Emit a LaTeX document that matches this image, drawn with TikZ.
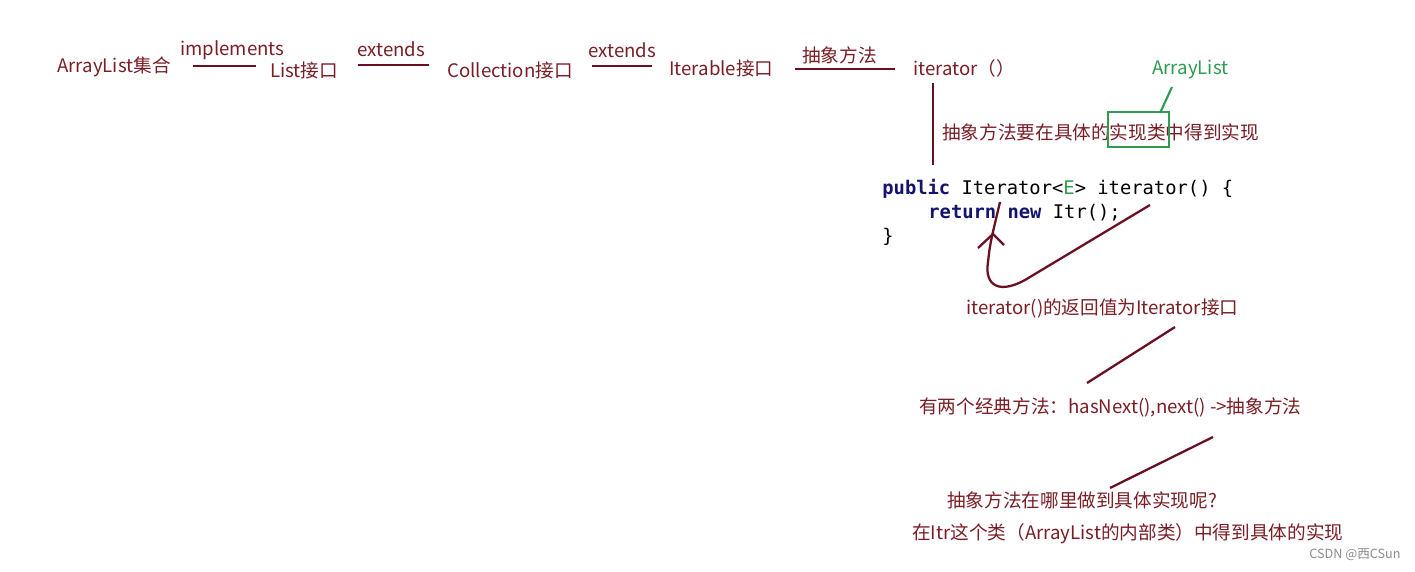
\documentclass[tikz,border=0pt]{standalone}
\usepackage{fontspec}
\setmainfont{Noto Sans CJK SC}
\newfontfamily\codefont{DejaVu Sans Mono}
\definecolor{note}{HTML}{7A1E26}
\definecolor{pen}{HTML}{6A1022}
\definecolor{mark}{HTML}{2E9A52}
\definecolor{kw}{HTML}{141470}
\begin{document}
\begin{tikzpicture}[x=0.02cm,y=-0.02cm,
        txt/.style={anchor=west,inner sep=0pt,text=note,font=\fontsize{10.6}{12}\selectfont},
        code/.style={anchor=west,inner sep=0pt,font=\codefont\fontsize{10.7}{12}\selectfont},
        pen/.style={draw=pen,line width=1.3pt},
        markpen/.style={draw=mark,line width=1.2pt}]
        \fill[white] (0,0) rectangle (1415,571);
        \useasboundingbox (0,0) rectangle (1415,571);
        % top chain
        \node[txt] (arraylist)  at (57,67)  {ArrayList集合};
        \node[txt] (impl)       at (180,50) {implements};
        \node[txt] (list)       at (270,70) {List接口};
        \node[txt] (ext1)       at (357,49) {extends};
        \node[txt] (collection) at (447,70) {Collection接口};
        \node[txt] (ext2)       at (588,50) {extends};
        \node[txt] (iterable)   at (669,68) {Iterable接口};
        \node[txt] (abstract)   at (802,55) {抽象方法};
        \node[txt] (itermeth)   at (913,68) {iterator（）};
        \draw[pen] (193,66) -- (256,66);
        \draw[pen] (358,65) -- (429,65);
        \draw[pen] (592,66) -- (652,66);
        \draw[pen] (795,69) -- (895,69);
        \draw[pen] (933,83) -- (933,165);
        % implementation class
        \node[txt] (implnote) at (942,132) {抽象方法要在具体的实现类中得到实现};
        \node[txt,text=mark] (owner) at (1152,69) {ArrayList};
        \draw[markpen] (1108,112) rectangle (1169,147);
        \draw[markpen] (1172,87) -- (1160,113);
        % code
        \node[code] (code1) at (882,189) {\textcolor{kw}{\bfseries public} Iterator<\textcolor{mark}{E}> iterator() \{};
        \node[code] (code2) at (928,213) {\textcolor{kw}{\bfseries return} \textcolor{kw}{\bfseries new} Itr();};
        \node[code] (code3) at (882,237) {\}};
        \draw[pen] (1150,205) -- (1030,277) .. controls (1000,296) and (984,286) .. (988,262)
                .. controls (990,244) .. (1000,202);
        \draw[pen] (978,248) -- (993,234) -- (1004,245);
        % return value and methods
        \node[txt] (retnote) at (966,308) {iterator()的返回值为Iterator接口};
        \draw[pen] (1175,327) -- (1087,383);
        \node[txt] (methods) at (919,407) {有两个经典方法：hasNext(),next() ->抽象方法};
        \draw[pen] (1213,437) -- (1110,488);
        \node[txt] (question) at (947,500) {抽象方法在哪里做到具体实现呢?};
        \node[txt] (answer)   at (912,534) {在Itr这个类（ArrayList的内部类）中得到具体的实现};
        \node[anchor=west,inner sep=0pt,text=black!45,font=\fontsize{7.2}{8}\selectfont] (credit) at (1309,555) {CSDN @西CSun};
    \end{tikzpicture}
\end{document}
